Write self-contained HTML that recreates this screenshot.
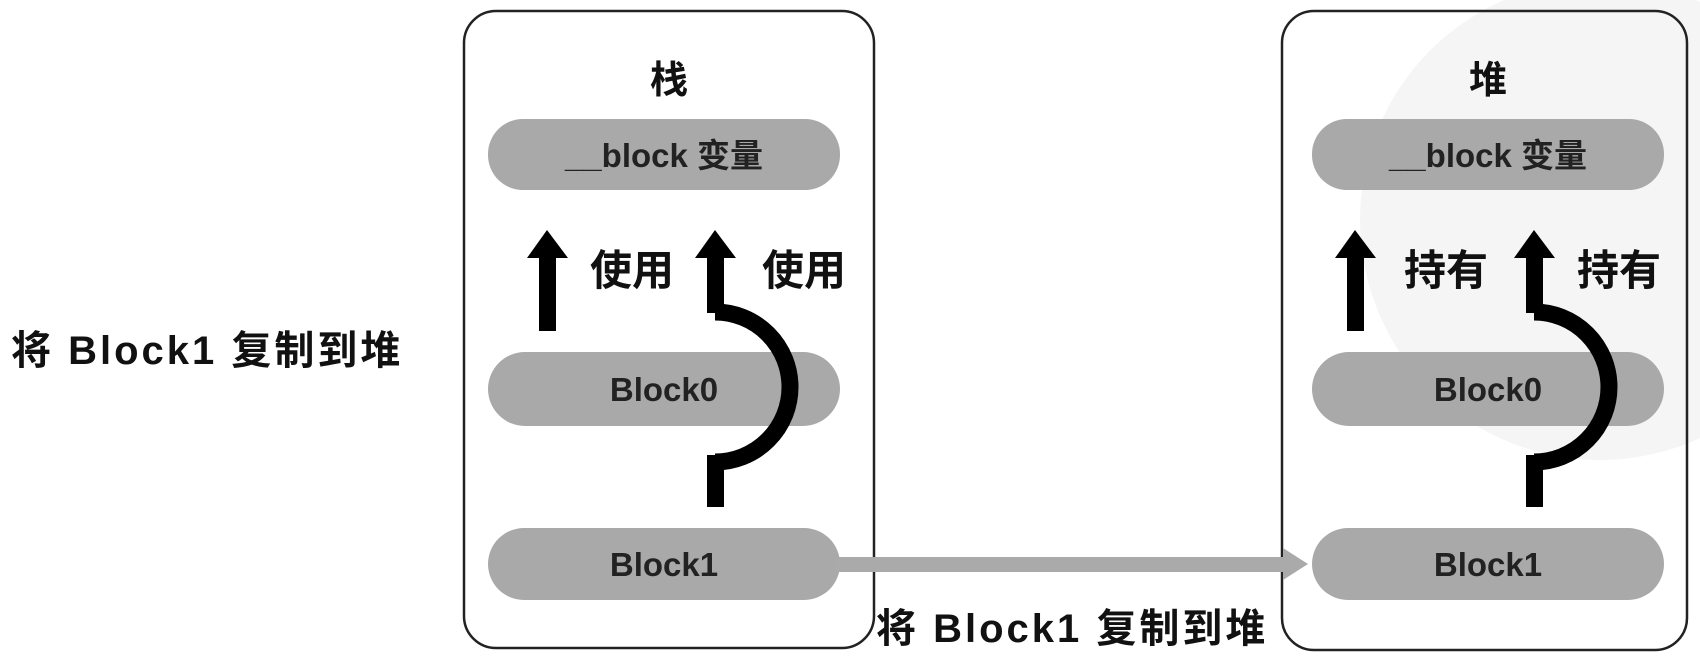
<!DOCTYPE html>
<html><head><meta charset="utf-8"><style>
body{margin:0;background:#fff;width:1700px;height:666px;overflow:hidden}
svg text{font-family:"Liberation Sans","Noto Sans CJK SC",sans-serif}
</style></head><body>
<svg width="1700" height="666" viewBox="0 0 1700 666" xmlns="http://www.w3.org/2000/svg">
<circle cx="1600" cy="220" r="240" fill="#f5f5f5"/>
<rect x="464" y="11" width="410" height="637" rx="32" fill="#fff" stroke="#222" stroke-width="2.5"/>
<rect x="1282" y="11" width="405" height="639" rx="32" fill="none" stroke="#222" stroke-width="2.5"/>
<text x="669" y="93" font-size="38" font-weight="bold" text-anchor="middle" fill="#111">栈</text>
<text x="1488" y="93" font-size="38" font-weight="bold" text-anchor="middle" fill="#111">堆</text>
<g fill="#a9a9a9">
<rect x="488" y="119" width="352" height="71" rx="35"/>
<rect x="488" y="352" width="352" height="74" rx="37"/>
<rect x="488" y="528" width="352" height="72" rx="36"/>
<rect x="1312" y="119" width="352" height="71" rx="35"/>
<rect x="1312" y="352" width="352" height="74" rx="37"/>
<rect x="1312" y="528" width="352" height="72" rx="36"/>
</g>
<g font-size="33" font-weight="bold" fill="#222" text-anchor="middle">
<text x="664" y="167">__block 变量</text>
<text x="664" y="401">Block0</text>
<text x="664" y="576">Block1</text>
<text x="1488" y="167">__block 变量</text>
<text x="1488" y="401">Block0</text>
<text x="1488" y="576">Block1</text>
</g>
<rect x="835" y="557" width="450" height="15" fill="#aaa"/>
<polygon points="1283,548 1308,564 1283,580" fill="#aaa"/>
<g fill="#000">
<rect x="539" y="255" width="17" height="76"/><polygon points="527,258 547,230 568,258"/>
<rect x="707" y="255" width="17" height="58"/><polygon points="695,258 715,230 736,258"/>
<rect x="707" y="455" width="17" height="52"/>
<rect x="1347" y="255" width="17" height="76"/><polygon points="1335,258 1355,230 1376,258"/>
<rect x="1526" y="255" width="17" height="58"/><polygon points="1514,258 1534,230 1555,258"/>
<rect x="1526" y="455" width="17" height="52"/>
</g>
<path d="M715,312 A75,75 0 0 1 715,462" fill="none" stroke="#000" stroke-width="17"/>
<path d="M1534,312 A75,75 0 0 1 1534,462" fill="none" stroke="#000" stroke-width="17"/>
<g font-size="42" font-weight="bold" fill="#111">
<text x="590" y="285">使用</text>
<text x="762" y="285">使用</text>
<text x="1404" y="285">持有</text>
<text x="1577" y="285">持有</text>
</g>
<g font-size="40" font-weight="bold" fill="#111" letter-spacing="3">
<text x="11" y="364">将 Block1 复制到堆</text>
<text x="876" y="642">将 Block1 复制到堆</text>
</g>
</svg>
</body></html>
